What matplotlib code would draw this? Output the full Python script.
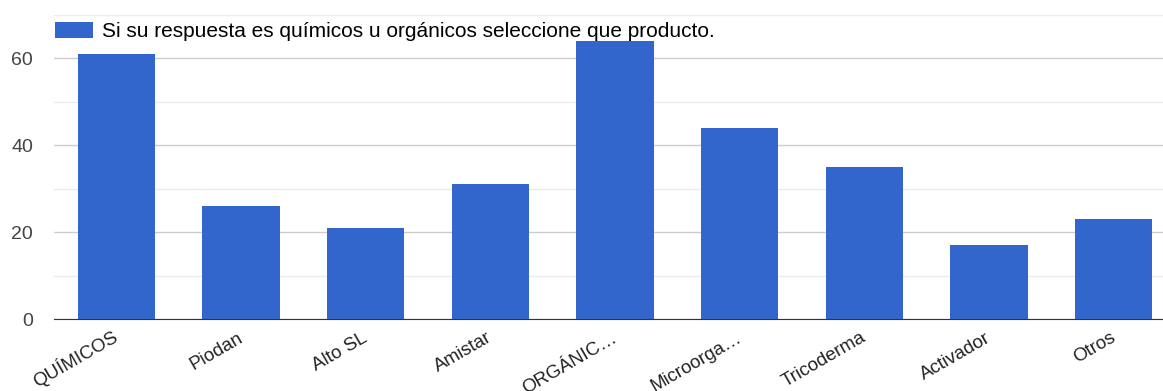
import matplotlib.pyplot as plt
from matplotlib.ticker import MultipleLocator
from matplotlib.transforms import ScaledTranslation

categories = ['QUÍMICOS', 'Piodan', 'Alto SL', 'Amistar', 'ORGÁNIC…',
              'Microorga…', 'Tricoderma', 'Activador', 'Otros']
values = [61, 26, 21, 31, 64, 44, 35, 17, 23]
series_name = 'Si su respuesta es químicos u orgánicos seleccione que producto.'

plt.rcParams['font.family'] = ['Liberation Sans', 'DejaVu Sans']

W, H = 1163, 391
fig = plt.figure(figsize=(W / 100, H / 100), dpi=100)
# plot area runs a bit past the right edge, like the original
ax = fig.add_axes([54 / W, 1 - 319 / H, 1122 / W, 304 / H])

x = range(len(categories))
ax.bar(x, values, width=0.62, color='#3366cc', label=series_name, zorder=3)

ax.set_xlim(-0.5, 8.5)
ax.set_ylim(0, 70)
ax.yaxis.set_major_locator(MultipleLocator(20))
ax.yaxis.set_minor_locator(MultipleLocator(10))
ax.grid(axis='y', which='major', color='#cccccc', linewidth=1, zorder=0)
ax.grid(axis='y', which='minor', color='#ebebeb', linewidth=1, zorder=0)

ax.set_xticks(list(x))
# anchor on the baseline so accented capitals don't push the label down
ax.set_xticklabels(categories, rotation=30, ha='right', va='baseline',
                   rotation_mode='anchor', fontsize=13.5, color='#222222')
ax.tick_params(axis='x', length=0, pad=15.5)
shift = ScaledTranslation(3 / 100, 0, fig.dpi_scale_trans)
for lbl in ax.get_xticklabels():
    lbl.set_transform(lbl.get_transform() + shift)
ax.tick_params(axis='y', which='both', length=0, labelsize=14, labelcolor='#444444', pad=15)

for s in ['top', 'right', 'left']:
    ax.spines[s].set_visible(False)
ax.spines['bottom'].set_color('#333333')
ax.spines['bottom'].set_zorder(4)

fig.legend(loc='center left', bbox_to_anchor=(55 / W, 1 - 31.5 / H),
           bbox_transform=fig.transFigure, frameon=False, fontsize=15,
           handlelength=1.83, handleheight=0.82, handletextpad=0.43,
           borderaxespad=0, borderpad=0)

fig.savefig('out.png', dpi=100)
